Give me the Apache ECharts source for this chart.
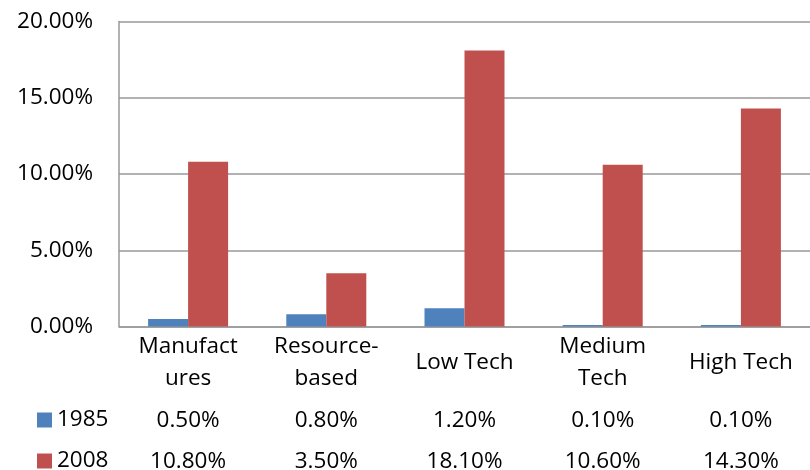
<!DOCTYPE html>
<html><head><meta charset="utf-8">
<script src="https://cdn.jsdelivr.net/npm/echarts@6/dist/echarts.min.js"></script>
<style>html,body{margin:0;padding:0;background:#fff}#c{width:810px;height:470px}</style>
</head><body><div id="c"></div>
<script>
const categories = ['Manufact\nures', 'Resource-\nbased', 'Low Tech', 'Medium\nTech', 'High Tech'];
const seriesNames = ['1985', '2008'];
const values1985 = [0.5, 0.8, 1.2, 0.1, 0.1];
const values2008 = [10.8, 3.5, 18.1, 10.6, 14.3];
const yTicks = [0, 5, 10, 15, 20];

const FONT = 'Open Sans';
const FS = 22.5;
const chart = echarts.init(document.getElementById('c'), null, {renderer: 'canvas'});
const fmt = v => v.toFixed(2) + '%';
function rowAxis(vals, margin) {
  return {
    type: 'category', data: categories, gridIndex: 0, position: 'bottom',
    axisLine: {show: false}, axisTick: {show: false}, splitLine: {show: false},
    axisLabel: {
      interval: 0, margin: margin, color: '#000', fontFamily: FONT, fontSize: FS, lineHeight: 24,
      formatter: (v, i) => fmt(vals[i])
    }
  };
}
function legendRow(name, top) {
  return {
    data: [name], left: 37, top: top, itemWidth: 15, itemHeight: 15,
    icon: 'rect', selectedMode: false, padding: 0,
    textStyle: {color: '#000', fontFamily: FONT, fontSize: FS, lineHeight: 24}
  };
}
chart.setOption({
  animation: false,
  textStyle: {fontFamily: FONT},
  grid: {left: 119, right: 0, top: 21.5, bottom: 143.5, containLabel: false, outerBoundsMode: 'none'},
  legend: [legendRow(seriesNames[0], 408), legendRow(seriesNames[1], 449)],
  xAxis: [
    {
      type: 'category', data: categories,
      axisLine: {show: true, lineStyle: {color: '#999', width: 1.5}},
      axisTick: {show: false},
      axisLabel: {
        interval: 0, margin: 4, color: '#000', fontFamily: FONT, fontSize: FS,
        formatter: v => v.indexOf('\n') >= 0 ? '{two|' + v + '}' : '{one|' + v + '}',
        rich: {
          two: {fontFamily: FONT, fontSize: FS, lineHeight: 32, color: '#000'},
          one: {fontFamily: FONT, fontSize: FS, lineHeight: 64, color: '#000'}
        }
      }
    },
    rowAxis(values1985, 82),
    rowAxis(values2008, 123)
  ],
  yAxis: {
    type: 'value', min: 0, max: 20, interval: 5,
    axisLine: {show: true, lineStyle: {color: '#999', width: 1.5}},
    axisTick: {show: false},
    splitLine: {lineStyle: {color: '#999', width: 1.5}},
    axisLabel: {margin: 26, color: '#000', fontFamily: FONT, fontSize: FS,
      formatter: v => yTicks.indexOf(v) >= 0 ? fmt(v) : ''}
  },
  series: [
    {name: seriesNames[0], type: 'bar', data: values1985, barWidth: 40, barGap: '0%',
      itemStyle: {color: '#4F81BD'}},
    {name: seriesNames[1], type: 'bar', data: values2008, barWidth: 40, barGap: '0%',
      itemStyle: {color: '#C0504D'}}
  ]
});
</script></body></html>
